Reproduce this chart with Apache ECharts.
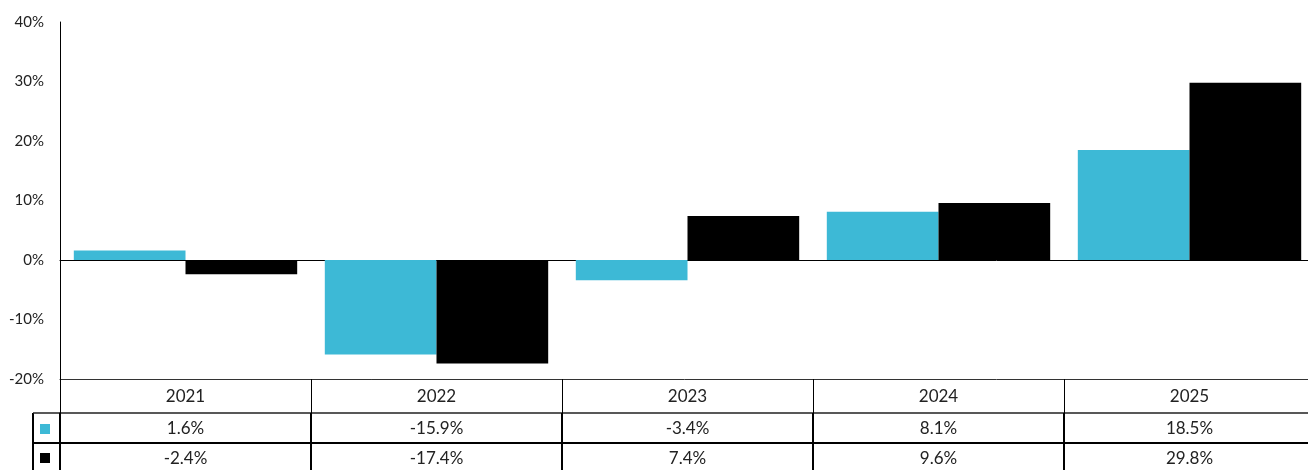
<!DOCTYPE html>
<html>
<head>
<meta charset="utf-8">
<script src="https://cdn.jsdelivr.net/npm/echarts@6/dist/echarts.min.js"></script>
<style>
  html, body { margin: 0; padding: 0; background: #fff; }
  #chart { width: 1308px; height: 470px; }
</style>
</head>
<body>
<div id="chart"></div>
<script>
const years = ['2021', '2022', '2023', '2024', '2025']
const fundData = [1.6, -15.9, -3.4, 8.1, 18.5]
const indexData = [-2.4, -17.4, 7.4, 9.6, 29.8]
const yTicks = { min: -20, max: 40, interval: 10 }

const FONT = 'Lato'
const CYAN = '#3DB9D6'
const TEXT = '#222'

const fmt = v => v.toFixed(1) + '%'

// table row axes under the grid
function tableAxis(data, offset, tickLen, lineWidth, lineColor, margin) {
  return {
    type: 'category',
    data: data,
    position: 'bottom',
    offset: offset,
    axisLine: { show: true, onZero: false, lineStyle: { color: lineColor, width: lineWidth } },
    axisTick: { show: true, length: tickLen, lineStyle: { color: '#000', width: lineWidth === 1 ? 1 : 2 } },
    axisLabel: { show: true, margin: margin, color: TEXT, fontFamily: FONT, fontSize: 17, interval: 0 },
    splitLine: { show: false }
  }
}

const chart = echarts.init(document.getElementById('chart'))
chart.setOption({
  animation: false,
  grid: { left: 60, right: -7, top: 22, bottom: 91, outerBoundsMode: 'none', containLabel: false },
  legend: {
    orient: 'vertical',
    left: 40,
    top: 424,
    padding: 0,
    itemWidth: 10,
    itemHeight: 10,
    itemGap: 19,
    icon: 'rect',
    formatter: () => '',
    selectedMode: false,
    data: ['Fund', 'Index']
  },
  xAxis: [
    {
      type: 'category',
      data: years,
      axisLine: { show: true, onZero: true, lineStyle: { color: '#000', width: 1 } },
      axisTick: { show: false },
      axisLabel: { show: false }
    },
    tableAxis(years, 0, 34, 1, '#333', 9),
    tableAxis(fundData.map(fmt), 34, 30, 1.5, '#222', 7),
    tableAxis(indexData.map(fmt), 64, 30, 2, '#000', 7)
  ],
  yAxis: {
    type: 'value',
    min: yTicks.min,
    max: yTicks.max,
    interval: yTicks.interval,
    axisLine: { show: true, lineStyle: { color: '#000', width: 1 } },
    axisTick: { show: false },
    splitLine: { show: false },
    axisLabel: { formatter: '{value}%', margin: 16, color: TEXT, fontFamily: FONT, fontSize: 15 }
  },
  graphic: [
    { type: 'line', shape: { x1: 33, y1: 413, x2: 33, y2: 470 }, style: { stroke: '#000', lineWidth: 2 } },
    { type: 'line', shape: { x1: 33, y1: 413, x2: 60, y2: 413 }, style: { stroke: '#222', lineWidth: 1.5 } },
    { type: 'line', shape: { x1: 33, y1: 443, x2: 60, y2: 443 }, style: { stroke: '#000', lineWidth: 2 } }
  ],
  series: [
    {
      name: 'Fund',
      type: 'bar',
      data: fundData,
      barGap: '0%',
      barCategoryGap: '11%',
      itemStyle: { color: CYAN }
    },
    {
      name: 'Index',
      type: 'bar',
      data: indexData,
      itemStyle: { color: '#000' }
    }
  ]
})
</script>
</body>
</html>
